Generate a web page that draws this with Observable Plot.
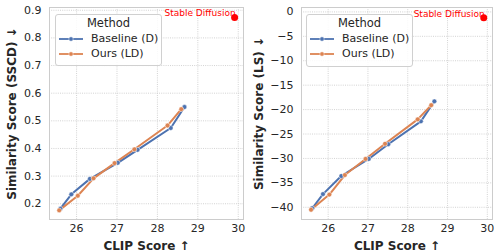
<!DOCTYPE html>
<html>
<head>
<meta charset="utf-8">
<script src="https://cdn.jsdelivr.net/npm/d3@7"></script>
<script src="https://cdn.jsdelivr.net/npm/@observablehq/plot@0.6"></script>
<style>
  html, body { margin: 0; padding: 0; background: #fff; }
  body { width: 495px; height: 252px; position: relative; overflow: hidden; font-family: "DejaVu Sans", sans-serif; }
  .panel { position: absolute; top: 0; }
  .legend { position: absolute; box-sizing: border-box; border: 1px solid #d0d0d0; border-radius: 3px;
            background: rgba(255,255,255,0.85); font-family: "DejaVu Sans", sans-serif; color: #262626; }
  .legend .title { position: absolute; left: 0; right: 0; text-align: center; font-size: 11.5px; }
  .legend .row { position: absolute; left: 3px; display: flex; align-items: center; font-size: 11px; white-space: nowrap; }
  .legend .row svg { margin-right: 8px; }
</style>
</head>
<body>
<div id="left" class="panel" style="left:0px"></div>
<div id="right" class="panel" style="left:247px"></div>
<script>
// ---- data ----
const methods = ["Baseline (D)", "Ours (LD)"];
const colors = ["#4c72b0", "#dd8452"];
const clipBase = [25.60, 25.87, 26.33, 27.02, 27.51, 28.33, 28.67];
const clipOurs = [25.57, 26.03, 26.42, 26.94, 27.43, 28.25, 28.59];
const sscdBase = [0.182, 0.234, 0.290, 0.348, 0.395, 0.474, 0.550];
const sscdOurs = [0.176, 0.229, 0.292, 0.347, 0.397, 0.483, 0.542];
const lsBase = [-40.2, -37.3, -33.6, -30.1, -27.1, -22.4, -18.3];
const lsOurs = [-40.5, -37.4, -33.4, -30.1, -27.0, -22.0, -19.1];
const sdLabel = "Stable Diffusion";
const sdClip = 29.91;
const sdSSCD = 0.874;
const sdLS = -1.2;
const xTicks = [26, 27, 28, 29, 30];
const yTicksL = [0.2, 0.3, 0.4, 0.5, 0.6, 0.7, 0.8, 0.9];
const yTicksR = [-40, -35, -30, -25, -20, -15, -10, -5, 0];
const xLabel = "CLIP Score ↑";
const yLabelL = "Similarity Score (SSCD) ↓";
const yLabelR = "Similarity Score (LS) ↓";

function rows(clip, vals, method) {
  return clip.map((c, i) => ({clip: c, v: vals[i], method}));
}

function panel({width, marginLeft, marginRight, yDomain, yTicks, base, ours, sdV, yLabel, yFormat}) {
  const data = [...rows(clipBase, base, methods[0]), ...rows(clipOurs, ours, methods[1])];
  const sd = [{clip: sdClip, v: sdV}];
  return Plot.plot({
    width, height: 252,
    marginLeft, marginRight, marginTop: 7, marginBottom: 33,
    style: {fontFamily: "DejaVu Sans, sans-serif", color: "#262626", background: "transparent", overflow: "visible"},
    x: {domain: [25.33, 30.13]},
    y: {domain: yDomain},
    color: {domain: methods, range: colors},
    marks: [
      Plot.gridX(xTicks, {stroke: "#c8c8c8", strokeOpacity: 1, strokeWidth: 0.8, strokeDasharray: "1,1.2"}),
      Plot.gridY(yTicks, {stroke: "#c8c8c8", strokeOpacity: 1, strokeWidth: 0.8, strokeDasharray: "1,1.2"}),
      Plot.frame({stroke: "#cccccc", strokeWidth: 1}),
      Plot.axisX(xTicks, {tickSize: 0, tickPadding: 5, fontSize: 11, label: null}),
      Plot.axisY(yTicks, {tickSize: 0, tickPadding: 8, fontSize: 11, label: null, tickFormat: yFormat}),
      Plot.line(data, {x: "clip", y: "v", stroke: "method", z: "method", strokeWidth: 2}),
      Plot.dot(data, {x: "clip", y: "v", fill: "method", r: 2.4, stroke: "white", strokeWidth: 0.5}),
      Plot.dot(sd, {x: "clip", y: "v", fill: "red", r: 3.5}),
      Plot.text(sd, {x: "clip", y: "v", text: () => sdLabel, fill: "red", fontSize: 9, textAnchor: "end", lineAnchor: "bottom", dx: 1, dy: -1}),
      Plot.text([xLabel], {text: d => d, frameAnchor: "bottom", dy: 27, lineAnchor: "middle", fontWeight: "bold", fontSize: 12, fill: "#262626"}),
      Plot.text([yLabel], {text: d => d, frameAnchor: "left", dx: -(marginLeft - 12), rotate: -90, lineAnchor: "middle", textAnchor: "middle", fontWeight: "bold", fontSize: 12, fill: "#262626"})
    ]
  });
}

document.getElementById("left").append(panel({
  width: 247, marginLeft: 49, marginRight: 4,
  yDomain: [0.143, 0.91], yTicks: yTicksL, base: sscdBase, ours: sscdOurs, sdV: sdSSCD,
  yLabel: yLabelL, yFormat: d3.format(".1f")
}));
document.getElementById("right").append(panel({
  width: 248, marginLeft: 54, marginRight: 3,
  yDomain: [-42.5, 0.9], yTicks: yTicksR, base: lsBase, ours: lsOurs, sdV: sdLS,
  yLabel: yLabelR, yFormat: d => d3.format("d")(d).replace("-", "−")
}));

function legend(left, top, width, height) {
  const div = document.createElement("div");
  div.className = "legend";
  Object.assign(div.style, {left: left + "px", top: top + "px", width: width + "px", height: height + "px"});
  const t = document.createElement("div");
  t.className = "title"; t.style.top = "1px"; t.textContent = "Method";
  div.append(t);
  methods.forEach((m, i) => {
    const r = document.createElement("div");
    r.className = "row"; r.style.top = (17 + i * 15) + "px";
    r.innerHTML = `<svg width="24" height="8"><line x1="0" y1="4" x2="24" y2="4" stroke="${colors[i]}" stroke-width="1.8"/><circle cx="12" cy="4" r="2.2" fill="${colors[i]}" stroke="white" stroke-width="0.5"/></svg>`;
    const s = document.createElement("span"); s.textContent = m;
    r.append(s);
    div.append(r);
  });
  document.body.append(div);
}
legend(55, 14, 107, 52);
legend(306, 14, 107, 53);
</script>
</body>
</html>
